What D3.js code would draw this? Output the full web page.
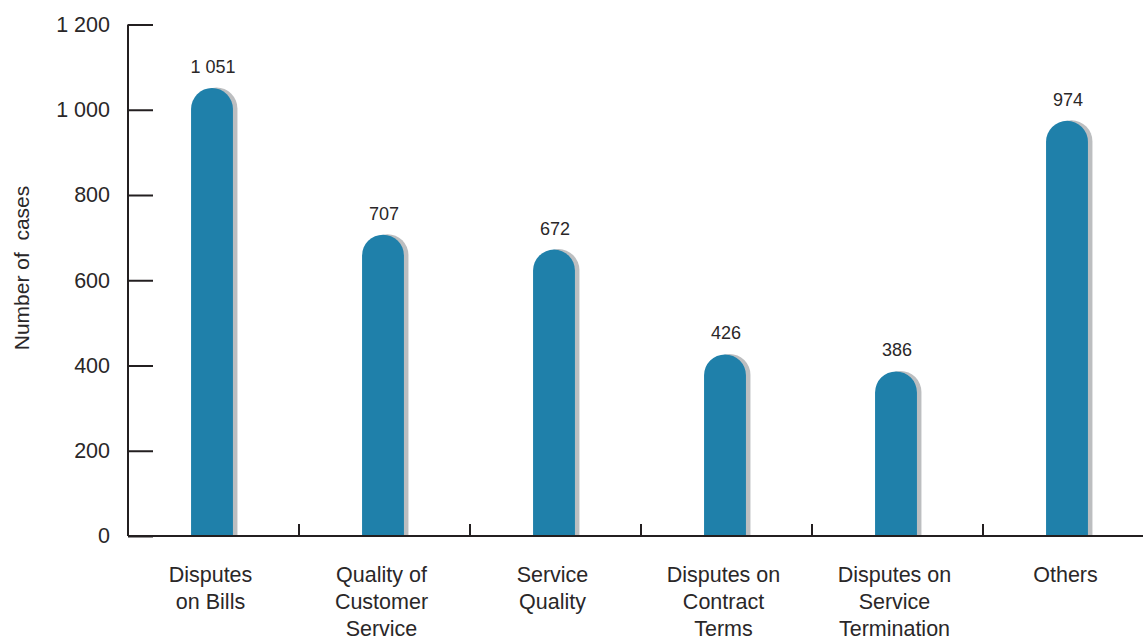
<!DOCTYPE html>
<html lang="en">
<head>
  <meta charset="UTF-8"/>
  <title>Number of cases by category</title>
  <script src="https://d3js.org/d3.v7.min.js"></script>
  <style>
    body { margin: 0; background: #fff; font-family: 'Liberation Sans', Arial, sans-serif; }
    svg { display: block; }
    text { fill: #2a2728; }
    .axis path, .axis line { stroke: #231f20; stroke-width: 2; }
    .axis text { font-size: 21.5px; fill: #2a2728; font-family: 'Liberation Sans', Arial, sans-serif; }
    text.value { font-size: 18px; }
    text.cat { font-size: 21.5px; }
    text.ytitle { font-size: 21px; white-space: pre; }
  </style>
</head>
<body>
  <svg id="chart" width="1143" height="636"></svg>
  <script>
    // data
    const categories = ['Disputes on Bills', 'Quality of Customer Service', 'Service Quality',
      'Disputes on Contract Terms', 'Disputes on Service Termination', 'Others'];
    const categoryLines = [
      ['Disputes', 'on Bills'],
      ['Quality of', 'Customer', 'Service'],
      ['Service', 'Quality'],
      ['Disputes on', 'Contract', 'Terms'],
      ['Disputes on', 'Service', 'Termination'],
      ['Others']
    ];
    const cases = [1051, 707, 672, 426, 386, 974];
    const yTicks = [0, 200, 400, 600, 800, 1000, 1200];

    const svg = d3.select('#chart');
    const mLeft = 128, mRight = 1154, mTop = 24.5, mBottom = 536;

    const x = d3.scaleBand().domain(categories).range([mLeft, mRight]).padding(0);
    const y = d3.scaleLinear().domain([0, 1200]).range([mBottom, mTop]);

    const fmt = d3.formatLocale({ decimal: '.', thousands: ' ', grouping: [3], currency: ['', ''] }).format(',');

    // y axis, ticks pointing inward
    svg.append('g')
      .attr('class', 'axis')
      .attr('transform', `translate(${mLeft},0)`)
      .call(d3.axisLeft(y).tickValues(yTicks).tickSizeInner(-25).tickSizeOuter(0).tickPadding(18).tickFormat(fmt))
      .call(g => g.select('.domain').attr('d', `M0,${mTop}V${mBottom}`));

    // x axis baseline + boundary ticks
    const xa = svg.append('g').attr('class', 'axis');
    xa.append('line')
      .attr('x1', mLeft).attr('x2', 1143)
      .attr('y1', mBottom).attr('y2', mBottom);
    xa.selectAll('line.tick')
      .data(categories.slice(1))
      .join('line')
      .attr('class', 'tick')
      .attr('x1', d => x(d)).attr('x2', d => x(d))
      .attr('y1', mBottom).attr('y2', mBottom - 12);

    const barW = x.bandwidth() * 0.245;
    const r = barW / 2;
    const barPath = (cx, v) => {
      const x0 = cx - r, t = y(v);
      return `M${x0},${mBottom}V${t + r}A${r},${r} 0 0 1 ${x0 + 2 * r},${t + r}V${mBottom}Z`;
    };
    const center = d => x(d) + x.bandwidth() / 2 - 1.5;

    const bars = svg.insert('g', ':first-child')
      .selectAll('g')
      .data(categories)
      .join('g');

    // shadow
    bars.append('path')
      .attr('fill', '#bcbec0')
      .attr('d', (d, i) => barPath(center(d), cases[i]))
      .attr('transform', 'translate(4.5,-0.5)');

    bars.append('path')
      .attr('fill', '#1f80aa')
      .attr('d', (d, i) => barPath(center(d), cases[i]));

    bars.append('text')
      .attr('class', 'value')
      .attr('x', d => center(d) + 1)
      .attr('y', (d, i) => y(cases[i]) - 15)
      .attr('text-anchor', 'middle')
      .text((d, i) => fmt(cases[i]));

    // category labels
    const labels = svg.append('g')
      .selectAll('text')
      .data(categories)
      .join('text')
      .attr('class', 'cat')
      .attr('text-anchor', 'middle')
      .attr('x', d => x(d) + x.bandwidth() / 2 - 3)
      .attr('y', 582);
    labels.selectAll('tspan')
      .data((d, i) => categoryLines[i])
      .join('tspan')
      .attr('x', function () { return this.parentNode.getAttribute('x'); })
      .attr('dy', (d, j) => j === 0 ? 0 : 27)
      .text(d => d);

    // y title
    svg.append('text')
      .attr('class', 'ytitle')
      .attr('transform', 'rotate(-90)')
      .attr('x', -268)
      .attr('y', 29)
      .attr('text-anchor', 'middle')
      .text('Number of  cases');
  </script>
</body>
</html>
